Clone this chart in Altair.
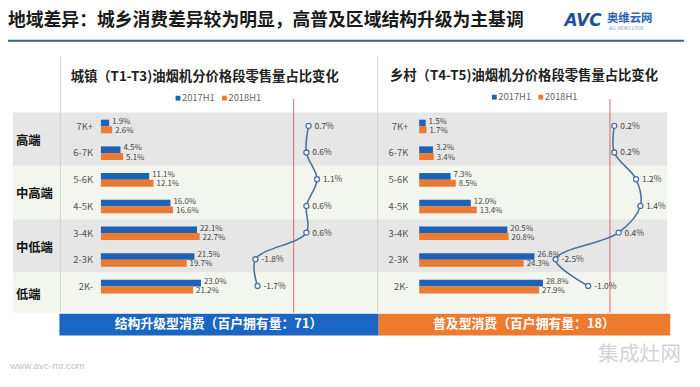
import altair as alt
import pandas as pd

# ---------------- data ----------------
headline = "地域差异：城乡消费差异较为明显，高普及区域结构升级为主基调"
panel_titles = ["城镇（T1-T3)油烟机分价格段零售量占比变化", "乡村（T4-T5)油烟机分价格段零售量占比变化"]
box_texts = ["结构升级型消费（百户拥有量：71）", "普及型消费（百户拥有量：18）"]
categories = ["7K+", "6-7K", "5-6K", "4-5K", "3-4K", "2-3K", "2K-"]
tiers = ["高端", "高端", "中高端", "中高端", "中低端", "中低端", "低端"]
series = ["2017H1", "2018H1"]

urban_2017 = [1.9, 4.5, 11.1, 16.0, 22.1, 21.5, 23.0]
urban_2018 = [2.6, 5.1, 12.1, 16.6, 22.7, 19.7, 21.2]
urban_diff = [0.7, 0.6, 1.1, 0.6, 0.6, -1.8, -1.7]

rural_2017 = [1.5, 3.2, 7.3, 12.0, 20.5, 26.8, 28.8]
rural_2018 = [1.7, 3.4, 8.5, 13.4, 20.8, 24.3, 27.9]
rural_diff = [0.2, 0.2, 1.2, 1.4, 0.4, -2.5, -1.0]

footer = "www.avc-mr.com"
watermark = "集成灶网"

# ---------------- styles ----------------
FONT = "Noto Sans CJK SC"
BLUE = "#1f62b5"
ORANGE = "#ec7a2f"
LINE = "#4e7199"
RED = "#cc6b70"
GRAY_BAND = "#e6e6e6"
LIGHT_BAND = "#f3f6ee"


def yscale():
    return alt.Scale(domain=[0, 6], range=[117, 279], nice=False, zero=False)


def cscale():
    return alt.Scale(domain=series, range=[BLUE, ORANGE])


def bars_df(v17, v18):
    rows = []
    for i, c in enumerate(categories):
        for s, v in zip(series, (v17[i], v18[i])):
            rows.append({"cat": c, "row": i, "series": s, "value": v, "label": f"{v:.1f}%"})
    return pd.DataFrame(rows)


def diff_df(d):
    return pd.DataFrame({"cat": categories, "row": list(range(len(categories))), "diff": d,
                         "label": [f"{v:.1f}%" for v in d]})


def bar_panel(df, xrange, cat_x):
    def xs():
        return alt.Scale(domain=[0, 30], range=xrange, nice=False, zero=False)
    base = alt.Chart(df).transform_calculate(
        top="datum.row + (datum.series == '2017H1' ? -0.23 : 0.02)",
        bottom="datum.row + (datum.series == '2017H1' ? 0.02 : 0.28)",
        ly="datum.row + (datum.series == '2017H1' ? -0.15 : 0.19)",
        zero="0",
    )
    bars = base.mark_rect().encode(
        x=alt.X("value:Q", scale=xs(), axis=None),
        x2="zero:Q",
        y=alt.Y("top:Q", scale=yscale(), axis=None),
        y2="bottom:Q",
        color=alt.Color("series:N", scale=cscale(), legend=None),
    )
    labels = base.mark_text(align="left", baseline="middle", dx=3, fontSize=8,
                            font=FONT, color="#454545").encode(
        x=alt.X("value:Q", scale=xs(), axis=None),
        y=alt.Y("ly:Q", scale=yscale(), axis=None),
        text="label:N",
    )
    cats = alt.Chart(df[df.series == series[0]]).mark_text(
        align="right", baseline="middle", fontSize=9.5, font=FONT, color="#555555", dy=1
    ).encode(x=alt.value(cat_x), y=alt.Y("row:Q", scale=yscale(), axis=None), text="cat:N")
    return [bars, labels, cats]


def diff_panel(df, xrange):
    def xs():
        return alt.Scale(domain=[-3, 3], range=xrange, nice=False, zero=False)
    rule = alt.Chart(pd.DataFrame({"z": [0]})).transform_calculate(
        top="-1.0", bottom="7.0"
    ).mark_rule(color=RED, strokeWidth=1).encode(
        x=alt.X("z:Q", scale=xs(), axis=None),
        y=alt.Y("top:Q", scale=yscale(), axis=None), y2="bottom:Q"
    )
    line = alt.Chart(df).mark_line(interpolate="catmull-rom", color=LINE, strokeWidth=1.6).encode(
        x=alt.X("diff:Q", scale=xs(), axis=None),
        y=alt.Y("row:Q", scale=yscale(), axis=None),
        order="row:Q",
    )
    pts = alt.Chart(df).mark_point(shape="circle", filled=True, fill="white", stroke=LINE,
                                   strokeWidth=1.3, size=26, opacity=1).encode(
        x=alt.X("diff:Q", scale=xs(), axis=None), y=alt.Y("row:Q", scale=yscale(), axis=None)
    )
    lab = alt.Chart(df).mark_text(align="left", baseline="middle", dx=6, fontSize=8.5,
                                  font=FONT, color="#454545").encode(
        x=alt.X("diff:Q", scale=xs(), axis=None), y=alt.Y("row:Q", scale=yscale(), axis=None),
        text="label:N"
    )
    return [rule, line, pts, lab]


# background bands built from tier membership
band_rows = []
order = []
for t in tiers:
    if t not in order:
        order.append(t)
for k, t in enumerate(order):
    idx = [i for i, tt in enumerate(tiers) if tt == t]
    y0 = min(idx) - 0.5
    y1 = max(idx) + (1.0 if k == len(order) - 1 else 0.5)
    band_rows.append({"tier": t, "y0": y0, "y1": y1, "ymid": (y0 + y1) / 2,
                      "shade": GRAY_BAND if k % 2 == 0 else LIGHT_BAND})
bands = pd.DataFrame(band_rows)

band_layer = alt.Chart(bands).mark_rect().encode(
    x=alt.value(5), x2=alt.value(667),
    y=alt.Y("y0:Q", scale=yscale(), axis=None), y2="y1:Q",
    fill=alt.Fill("shade:N", scale=None),
)
tier_labels = alt.Chart(bands).mark_text(align="left", baseline="middle", fontSize=12.5,
                                         fontWeight="bold", font=FONT, color="#111111", dy=2).encode(
    x=alt.value(8), y=alt.Y("ymid:Q", scale=yscale(), axis=None), text="tier:N"
)

one = pd.DataFrame({"a": [0]})


def txt(text, x, y, size, color="#222222", weight="normal", align="left", style="normal", font=FONT):
    return alt.Chart(pd.DataFrame({"t": [text]})).mark_text(
        align=align, baseline="middle", fontSize=size, fontWeight=weight, color=color,
        font=font, fontStyle=style
    ).encode(x=alt.value(x), y=alt.value(y), text="t:N")


def vrule(x, y0, y1, color, w=1):
    return alt.Chart(one).mark_rule(color=color, strokeWidth=w).encode(
        x=alt.value(x), y=alt.value(y0), y2=alt.value(y1))


def hrule(x0, x1, y, color, w=1):
    return alt.Chart(one).mark_rule(color=color, strokeWidth=w).encode(
        x=alt.value(x0), x2=alt.value(x1), y=alt.value(y))


def box(x0, x1, y0, y1, color):
    return alt.Chart(one).mark_rect(color=color).encode(
        x=alt.value(x0), x2=alt.value(x1), y=alt.value(y0), y2=alt.value(y1))


def legend(x, y):
    layers = []
    for i, s in enumerate(series):
        layers.append(alt.Chart(pd.DataFrame({"series": [s]})).mark_square(size=24, opacity=1).encode(
            x=alt.value(x + i * 47), y=alt.value(y),
            color=alt.Color("series:N", scale=cscale(), legend=None)))
        layers.append(txt(s, x + 4 + i * 47, y, 9.5, color="#666666"))
    return layers


layers = [
    band_layer,
    vrule(53, 47, 305, "#cfcfcf"),
    vrule(374, 47, 305, "#cfcfcf"),
    tier_labels,
    *bar_panel(bars_df(urban_2017, urban_2018), [94, 226], 86),
    *bar_panel(bars_df(rural_2017, rural_2018), [416, 546.5], 405),
    *diff_panel(diff_df(urban_diff), [224.5, 353.5]),
    *diff_panel(diff_df(rural_diff), [543, 675]),
    txt(headline, 0, 11, 18, color="#1a1a1a", weight="bold"),
    hrule(0, 684, 31, "#3a6285", 2),
    txt("AVC", 563, 11, 17, color="#1f4e9a", weight="bold", style="italic", font="DejaVu Sans"),
    txt("奥维云网", 606, 9, 11.5, color="#2a64b2", weight="bold"),
    txt("ALL VIEW CLOUD", 608, 19, 4.5, color="#6a8fc4"),
    txt(panel_titles[0], 199, 68, 13.5, weight="bold", align="center"),
    txt(panel_titles[1], 522, 67, 13.5, weight="bold", align="center"),
    *legend(172, 89),
    *legend(492, 88),
    box(52, 375, 307, 329, "#1b66c2"),
    box(375, 670, 307, 329, ORANGE),
    txt(box_texts[0], 213, 318, 13, color="white", weight="bold", align="center"),
    txt(box_texts[1], 522, 318, 13, color="white", weight="bold", align="center"),
    txt(footer, 2, 360, 10, color="#c2c2c2", font="Liberation Sans"),
    txt(watermark, 597, 349, 21, color="#d3d3d3"),
]

chart = alt.layer(*layers).resolve_scale(x="independent").properties(
    width=692, height=379, padding=0, autosize=alt.AutoSizeParams(type="none"),
    background="white",
).configure_view(stroke=None)

chart.save("out.html", embed_options={"renderer": "svg", "actions": False})
